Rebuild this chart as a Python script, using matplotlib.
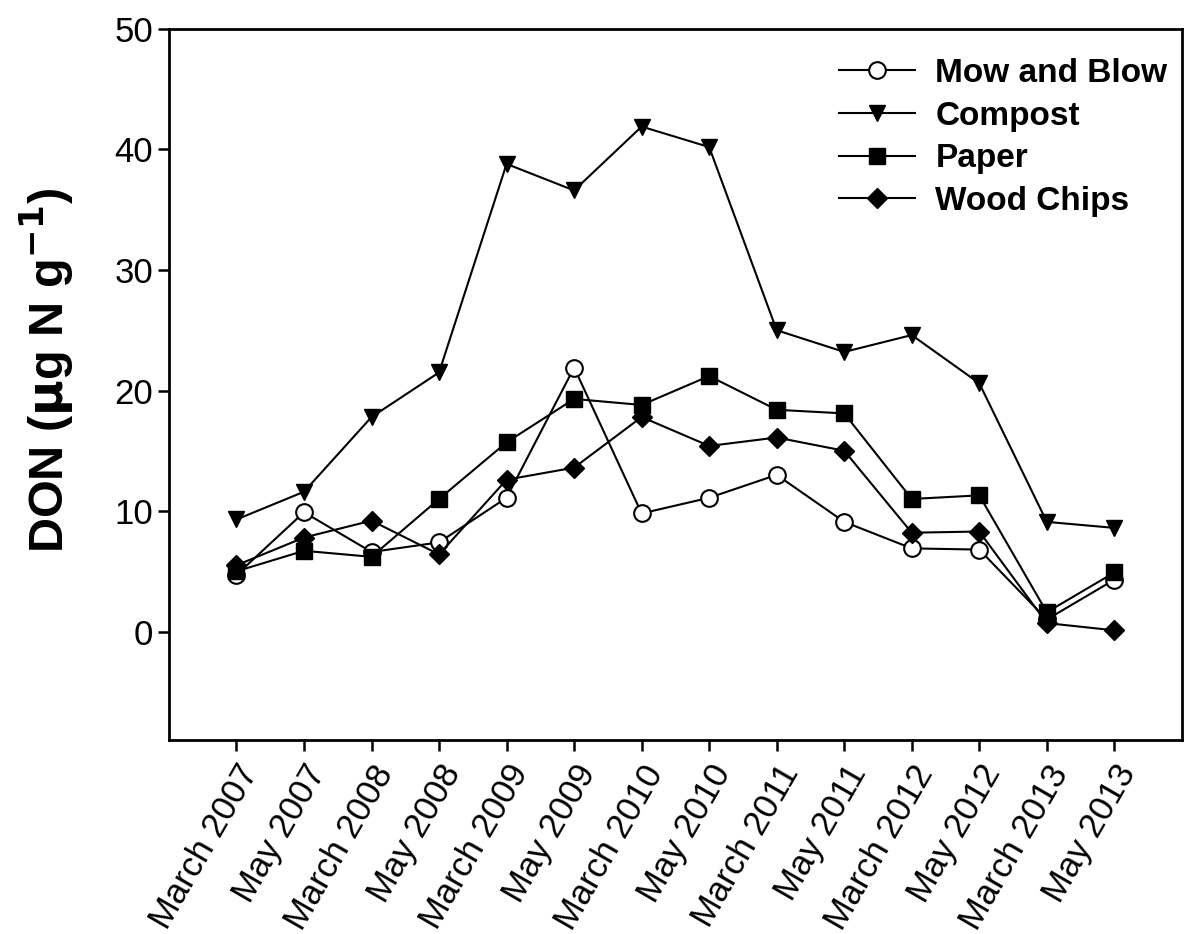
import matplotlib.pyplot as plt
import numpy as np

plt.rcParams['font.family'] = ['Liberation Sans', 'DejaVu Sans']

dates = ["March 2007", "May 2007", "March 2008", "May 2008", "March 2009", "May 2009",
         "March 2010", "May 2010", "March 2011", "May 2011", "March 2012", "May 2012",
         "March 2013", "May 2013"]

mow = [4.7, 9.9, 6.6, 7.4, 11.1, 21.9, 9.8, 11.1, 13.0, 9.1, 6.9, 6.8, 1.0, 4.3]
compost = [9.3, 11.6, 17.8, 21.5, 38.8, 36.6, 41.9, 40.2, 25.0, 23.2, 24.6, 20.6, 9.1, 8.6]
paper = [5.0, 6.7, 6.2, 11.0, 15.7, 19.3, 18.8, 21.2, 18.4, 18.1, 11.0, 11.3, 1.6, 4.9]
wood = [5.5, 7.8, 9.2, 6.4, 12.6, 13.6, 17.8, 15.4, 16.1, 15.0, 8.2, 8.3, 0.7, 0.1]

x = np.arange(len(dates))

fig = plt.figure(figsize=(11.84, 9.34), dpi=100)
ax = fig.add_axes([0.1427, 0.2077, 0.8555, 0.7613])

lw = 1.5
ax.plot(x, mow, color='black', lw=lw, marker='o', ms=12, mfc='white', mec='black', mew=1.5, label="Mow and Blow")
ax.plot(x, compost, color='black', lw=lw, marker='v', ms=12, mfc='black', mec='black', label="Compost")
ax.plot(x, paper, color='black', lw=lw, marker='s', ms=11, mfc='black', mec='black', label="Paper")
ax.plot(x, wood, color='black', lw=lw, marker='D', ms=10, mfc='black', mec='black', label="Wood Chips")

ax.set_xlim(-1, 14)
ax.set_ylim(-9, 50)
ax.set_yticks([0, 10, 20, 30, 40, 50])
ax.set_xticks(x)
ax.set_xticklabels(dates, rotation=60, ha='right', rotation_mode='anchor')
ax.tick_params(axis='both', labelsize=25, direction='out', length=8, width=1.8)
ax.tick_params(axis='x', pad=6)

for s in ax.spines.values():
    s.set_linewidth(2)

ax.set_ylabel(r"DON ($\mathbf{\mu}$g N g$^{\mathbf{-1}}$)", fontsize=35, fontweight='bold')
ax.yaxis.set_label_coords(-0.092, 0.52)

ax.legend(loc='upper right', bbox_to_anchor=(0.999, 0.978), frameon=False,
          prop={'size': 24, 'weight': 'bold'},
          handlelength=2.3, labelspacing=0.35, borderaxespad=0.0, handletextpad=0.6)

fig.savefig("out.png", dpi=100)
